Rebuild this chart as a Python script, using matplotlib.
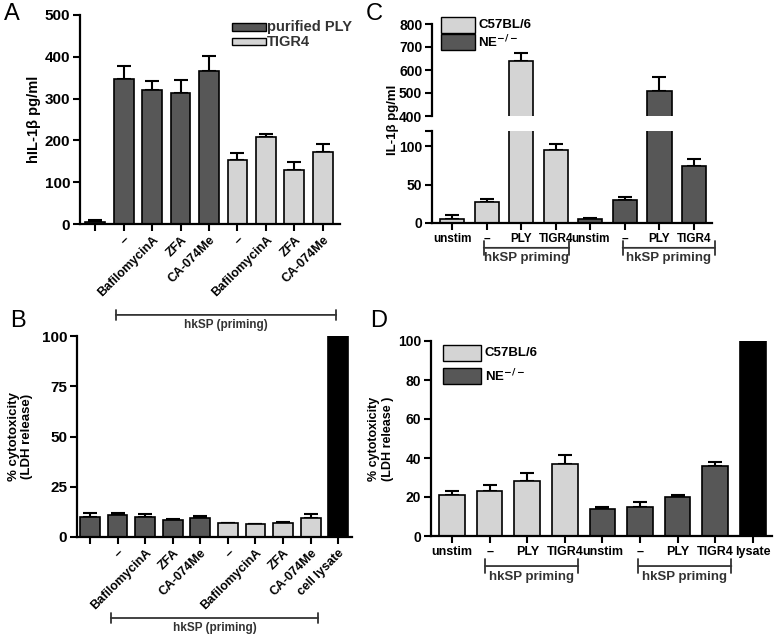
import matplotlib
matplotlib.use("Agg")
import matplotlib.pyplot as plt
from matplotlib.patches import Rectangle
import numpy as np

plt.rcParams["font.family"] = ["Liberation Sans", "DejaVu Sans"]
plt.rcParams["font.weight"] = "bold"

DARK = "#575757"
LIGHT = "#d4d4d4"

# panel A
a_labels = ["", "–", "BafilomycinA", "ZFA", "CA-074Me", "–", "BafilomycinA", "ZFA", "CA-074Me"]
a_vals = [5, 348, 320, 313, 366, 153, 208, 128, 173]
a_err = [5, 30, 23, 32, 35, 18, 7, 20, 18]
a_cols = [DARK] * 5 + [LIGHT] * 4

# panel B
b_labels = ["", "–", "BafilomycinA", "ZFA", "CA-074Me", "–", "BafilomycinA", "ZFA", "CA-074Me", "cell lysate"]
b_vals = [10, 11, 10, 8.5, 9.5, 6.8, 6.5, 7.2, 9.5, 100]
b_err = [2, 1, 1.5, 0.4, 1, 0.4, 0, 0.4, 2, 0]
b_cols = [DARK] * 5 + [LIGHT] * 4 + ["black"]

# panel C
c_labels = ["unstim", "–", "PLY", "TIGR4", "unstim", "–", "PLY", "TIGR4"]
c_vals = [5, 27, 640, 95, 5, 30, 510, 75]
c_err = [5, 4, 32, 8, 2, 4, 60, 9]
c_cols = [LIGHT] * 4 + [DARK] * 4

# panel D
d_labels = ["unstim", "–", "PLY", "TIGR4", "unstim", "–", "PLY", "TIGR4", "lysate"]
d_vals = [21, 23, 28, 37, 14, 15, 20, 36, 100]
d_err = [2, 3, 4.5, 4.5, 1, 2.5, 1, 2, 0]
d_cols = [LIGHT] * 4 + [DARK] * 4 + ["black"]

W, H = 783, 642
fig = plt.figure(figsize=(W / 100, H / 100), dpi=100)


def px_axes(x0, y_top, x1, y_bot):
    return fig.add_axes([x0 / W, 1 - y_bot / H, (x1 - x0) / W, (y_bot - y_top) / H])


def style(ax, bottom=True, fs=10):
    for s in ["top", "right"]:
        ax.spines[s].set_visible(False)
    ax.spines["left"].set_linewidth(1.6)
    ax.spines["bottom"].set_linewidth(1.6)
    if not bottom:
        ax.spines["bottom"].set_visible(False)
    ax.tick_params(width=1.5, length=5, labelsize=fs, pad=2)
    if not bottom:
        ax.tick_params(axis="x", bottom=False, labelbottom=False)


def bars(ax, vals, err, cols, width):
    x = np.arange(len(vals))
    ax.bar(x, vals, width=width, color=cols, edgecolor="black", linewidth=1.2, zorder=2)
    ax.errorbar(x, vals, yerr=[np.zeros(len(err)), err], fmt="none", ecolor="black",
                elinewidth=1.5, capsize=5, capthick=1.5, zorder=1)
    return x


def bracket(ax, x0, x1, y, label, dy, fs=9, cap=0.35):
    ax.annotate("", xy=(x0, y), xytext=(x1, y), xycoords="axes fraction",
                arrowprops=dict(arrowstyle=f"|-|, widthA={cap}, widthB={cap}", lw=1.3, color="#333333"),
                annotation_clip=False)
    ax.text((x0 + x1) / 2, y - dy, label, transform=ax.transAxes, ha="center", va="top",
            fontsize=fs, fontweight="bold", color="#333333")


# ---- A ----
ax = px_axes(80, 15, 340, 224)
x = bars(ax, a_vals, a_err, a_cols, 0.7)
style(ax, fs=11)
ax.set_ylim(0, 500)
ax.set_xlim(-0.53, 8.6)
ax.set_yticks([0, 100, 200, 300, 400, 500])
ax.set_xticks(x)
ax.set_xticklabels(a_labels, rotation=45, ha="right", rotation_mode="anchor", fontsize=9)
ax.set_ylabel("hIL-1β pg/ml", fontsize=10.5, fontweight="bold", labelpad=3)
for i, (lab, col) in enumerate([("purified PLY", DARK), ("TIGR4", LIGHT)]):
    ax.add_patch(Rectangle((0.585, 0.925 - i * 0.07), 0.13, 0.035, transform=ax.transAxes,
                           facecolor=col, edgecolor="black", lw=1, clip_on=False))
    ax.text(0.72, 0.943 - i * 0.07, lab, transform=ax.transAxes, va="center", fontsize=10.5,
            fontweight="bold", color="#333333")
bracket(ax, 0.127, 0.996, -0.435, "hkSP (priming)", 0.02, fs=8.5)

# ---- B ----
ax = px_axes(77, 336, 352, 537)
x = bars(ax, b_vals, b_err, b_cols, 0.72)
style(ax, fs=11)
ax.set_ylim(0, 100)
ax.set_xlim(-0.47, 9.5)
ax.set_yticks([0, 25, 50, 75, 100])
ax.set_xticks(x)
ax.set_xticklabels(b_labels, rotation=45, ha="right", rotation_mode="anchor", fontsize=9)
ax.set_ylabel("% cytotoxicity\n(LDH release)", fontsize=9.5, fontweight="bold", labelpad=6)
bracket(ax, 0.113, 0.887, -0.403, "hkSP (priming)", 0.02, fs=8.5)

# ---- C (broken axis) ----
c_xlim = (-0.58, 7.52)
axt = px_axes(432, 24, 712, 116)
axb = px_axes(432, 131, 712, 223)
for a_ in (axt, axb):
    bars(a_, c_vals, c_err, c_cols, 0.7)
    a_.set_xlim(*c_xlim)
style(axt, bottom=False, fs=10)
axt.set_ylim(400, 800)
axt.set_yticks([400, 500, 600, 700, 800])
style(axb, fs=10)
axb.set_ylim(0, 120)
axb.set_yticks([0, 50, 100])
axb.set_yticks([120], minor=True)
axb.tick_params(axis="y", which="minor", length=5, width=1.5)
axb.set_xticks(np.arange(len(c_vals)))
axb.set_xticklabels(c_labels, fontsize=8.5)
fig.text(393 / W, 1 - 120 / H, "IL-1β pg/ml", rotation=90, ha="center", va="center",
         fontsize=9.5, fontweight="bold")
for i, (lab, col) in enumerate([("C57BL/6", LIGHT), ("NE$^{\\mathbf{-/-}}$", DARK)]):
    axt.add_patch(Rectangle((0.032, 0.9 - i * 0.185), 0.122, 0.18, transform=axt.transAxes,
                            facecolor=col, edgecolor="black", lw=1, clip_on=False))
    axt.text(0.165, 0.99 - i * 0.185, lab, transform=axt.transAxes, va="center", fontsize=9.5,
             fontweight="bold")
bracket(axb, 0.175, 0.50, -0.27, "hkSP priming", 0.05, fs=9.5, cap=0.5)
bracket(axb, 0.671, 1.02, -0.27, "hkSP priming", 0.05, fs=9.5, cap=0.5)

# ---- D ----
ax = px_axes(431, 341, 772, 536)
x = bars(ax, d_vals, d_err, d_cols, 0.68)
style(ax, fs=10)
ax.set_ylim(0, 100)
ax.set_xlim(-0.56, 8.51)
ax.set_yticks([0, 20, 40, 60, 80, 100])
ax.set_xticks(x)
ax.set_xticklabels(d_labels, fontsize=9)
ax.set_ylabel("% cytotoxicity\n(LDH release )", fontsize=9, fontweight="bold", labelpad=3)
for i, (lab, col) in enumerate([("C57BL/6", LIGHT), ("NE$^{\\mathbf{-/-}}$", DARK)]):
    ax.add_patch(Rectangle((0.035, 0.895 - i * 0.113), 0.111, 0.082, transform=ax.transAxes,
                           facecolor=col, edgecolor="black", lw=1, clip_on=False))
    ax.text(0.158, 0.936 - i * 0.113, lab, transform=ax.transAxes, va="center", fontsize=9.5,
            fontweight="bold")
bracket(ax, 0.15, 0.44, -0.154, "hkSP priming", 0.025, fs=9.5, cap=0.5)
bracket(ax, 0.60, 0.889, -0.154, "hkSP priming", 0.025, fs=9.5, cap=0.5)

# panel letters
for lab, (px, py) in {"A": (4, 3), "B": (10, 310), "C": (366, 3), "D": (370, 310)}.items():
    fig.text(px / W, 1 - py / H, lab, fontsize=17, fontweight="normal", va="top", ha="left")

fig.savefig("out.png", dpi=100)
